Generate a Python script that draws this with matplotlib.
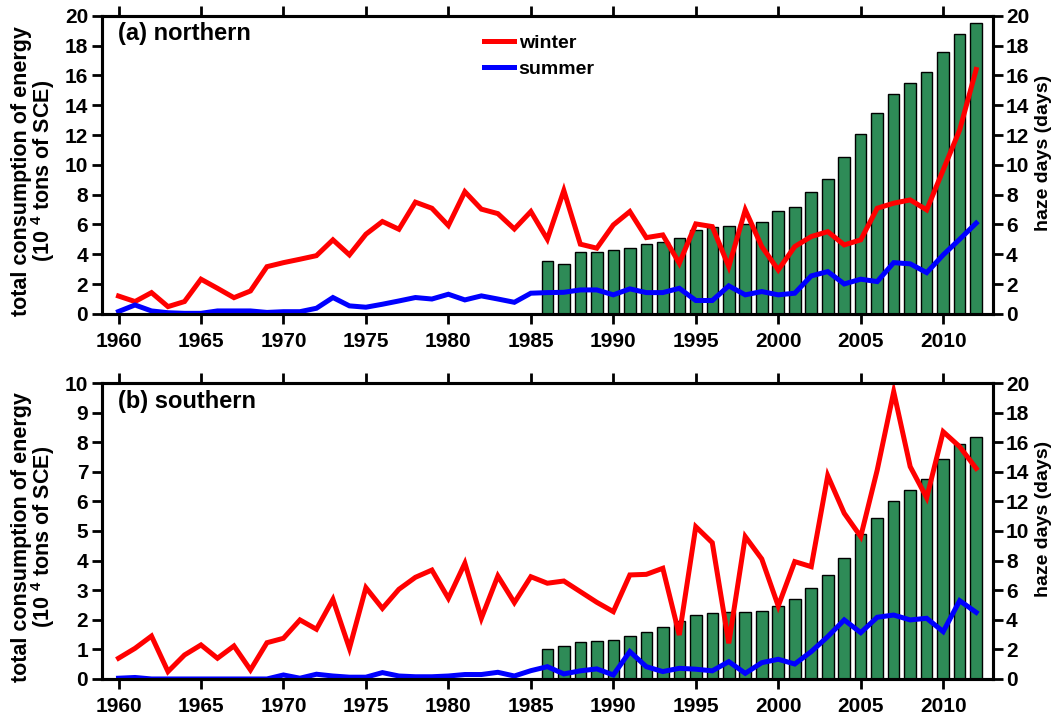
import matplotlib
matplotlib.use("Agg")
import matplotlib.pyplot as plt
import numpy as np

plt.rcParams['font.family'] = ['Liberation Sans', 'DejaVu Sans']
plt.rcParams['font.weight'] = 'bold'
plt.rcParams['mathtext.fontset'] = 'custom'
plt.rcParams['mathtext.rm'] = 'Liberation Sans:bold'
plt.rcParams['mathtext.bf'] = 'Liberation Sans:bold'

years = list(range(1960, 2013))
energy_years = list(range(1986, 2013))

# (a) northern
north_winter = [1.2, 0.83, 1.43, 0.49, 0.83, 2.33, 1.72, 1.09, 1.54, 3.17,
                3.44, 3.67, 3.91, 4.97, 3.96, 5.35, 6.2, 5.68, 7.5, 7.09,
                5.93, 8.2, 7.03, 6.73, 5.7, 6.87, 5.01, 8.28, 4.68, 4.41,
                5.97, 6.87, 5.12, 5.3, 3.4, 6.04, 5.86, 3.17, 6.98, 4.52,
                2.95, 4.52, 5.19, 5.52, 4.63, 4.97, 7.09, 7.43, 7.65, 6.98,
                9.66, 12.35, 16.4]
north_summer = [0.16, 0.6, 0.2, 0.08, 0.04, 0.04, 0.2, 0.2, 0.2, 0.1,
                0.15, 0.15, 0.38, 1.1, 0.54, 0.45, 0.65, 0.87, 1.1, 1.0,
                1.32, 0.94, 1.21, 1.0, 0.78, 1.39, 1.43, 1.45, 1.61, 1.61,
                1.28, 1.68, 1.43, 1.43, 1.72, 0.9, 0.9, 1.88, 1.28, 1.5,
                1.28, 1.39, 2.55, 2.84, 2.01, 2.33, 2.17, 3.44, 3.36, 2.77,
                3.96, 5.01, 6.09]
north_energy = [3.55, 3.34, 4.14, 4.18, 4.3, 4.41, 4.68, 4.81, 5.12, 5.64,
                5.8, 5.9, 6.04, 6.15, 6.91, 7.16, 8.21, 9.08, 10.54, 12.06,
                13.47, 14.74, 15.48, 16.2, 17.56, 18.77, 19.5]

# (b) southern
south_winter = [1.4, 2.07, 2.9, 0.5, 1.62, 2.3, 1.4, 2.23, 0.61, 2.45,
                2.75, 3.99, 3.36, 5.38, 2.07, 6.17, 4.77, 6.06, 6.87, 7.36,
                5.45, 7.82, 4.1, 6.96, 5.16, 6.91, 6.47, 6.62, 5.9, 5.18,
                4.55, 7.03, 7.07, 7.48, 2.97, 10.29, 9.21, 2.41, 9.62, 8.11,
                4.93, 7.93, 7.59, 13.74, 11.2, 9.62, 14.12, 19.41, 14.35, 12.25,
                16.71, 15.7, 14.23]
south_summer = [0.05, 0.1, 0.0, 0.0, 0.0, 0.0, 0.0, 0.0, 0.0, 0.0,
                0.27, 0.05, 0.32, 0.2, 0.12, 0.12, 0.43, 0.2, 0.15, 0.15,
                0.2, 0.3, 0.3, 0.45, 0.2, 0.56, 0.83, 0.34, 0.55, 0.68,
                0.27, 1.85, 0.83, 0.5, 0.72, 0.66, 0.55, 1.17, 0.38, 1.1,
                1.33, 1.01, 1.85, 2.86, 3.99, 3.13, 4.17, 4.32, 3.99, 4.1,
                3.2, 5.29, 4.5]
south_energy = [1.01, 1.13, 1.26, 1.28, 1.32, 1.46, 1.6, 1.77, 1.96, 2.16,
                2.24, 2.27, 2.27, 2.31, 2.48, 2.7, 3.06, 3.53, 4.1, 4.89,
                5.45, 6.01, 6.39, 6.76, 7.43, 7.94, 8.19]

xticks = list(range(1960, 2011, 5))
panels = [
    dict(title='(a) northern', winter=north_winter, summer=north_summer,
         energy=north_energy, elim=20, eticks=list(range(0, 21, 2)),
         rect=[0.0967, 0.564, 0.845, 0.414], legend=True),
    dict(title='(b) southern', winter=south_winter, summer=south_summer,
         energy=south_energy, elim=10, eticks=list(range(0, 11, 1)),
         rect=[0.0967, 0.057, 0.845, 0.411], legend=False),
]

fig = plt.figure(figsize=(10.55, 7.2), dpi=100)
TICK_FS = 15
for p in panels:
    ax = fig.add_axes(p['rect'])
    ax.bar(energy_years, p['energy'], width=0.7, color='#2E8B57',
           edgecolor='black', linewidth=1.0, zorder=2)
    ax.set_xlim(1959.0, 2013.05)
    ax.set_ylim(0, p['elim'])
    ax.set_yticks(p['eticks'])
    ax.set_xticks(xticks)
    ax.tick_params(axis='x', which='both', direction='out', top=True,
                   bottom=True, length=7, width=2, labelsize=TICK_FS, pad=6)
    ax.tick_params(axis='y', direction='out', left=True, right=False,
                   length=7, width=2, labelsize=TICK_FS, pad=3)
    for s in ax.spines.values():
        s.set_linewidth(2.2)
    ax.set_ylabel('total consumption of energy\n(10 $^{4}$ tons of SCE)',
                  fontsize=15.5, fontweight='bold', linespacing=0.9)
    ax.yaxis.set_label_coords(-0.05, 0.48)

    ax2 = ax.twinx()
    ax2.plot(years, p['winter'], color='#FF0000', lw=3.6, label='winter',
             solid_joinstyle='miter')
    ax2.plot(years, p['summer'], color='#0000FF', lw=3.6, label='summer',
             solid_joinstyle='miter')
    ax2.set_ylim(0, 20)
    ax2.set_yticks(list(range(0, 21, 2)))
    ax2.tick_params(axis='y', direction='out', length=7, width=2,
                    labelsize=TICK_FS, pad=2)
    for s in ax2.spines.values():
        s.set_linewidth(2.2)
    ax2.set_ylabel('haze days (days)', fontsize=14, fontweight='bold',
                   rotation=90)
    ax2.yaxis.set_label_coords(1.046, 0.54)
    ax.text(0.018, 0.978, p['title'], transform=ax.transAxes, fontsize=17,
            fontweight='bold', va='top', ha='left')
    if p['legend']:
        ax2.legend(loc='upper left', bbox_to_anchor=(0.428, 0.937),
                   frameon=False, fontsize=14, handlelength=1.55,
                   handletextpad=0.25, labelspacing=0.42, borderpad=0,
                   borderaxespad=0)

fig.savefig('out.png', dpi=100)
